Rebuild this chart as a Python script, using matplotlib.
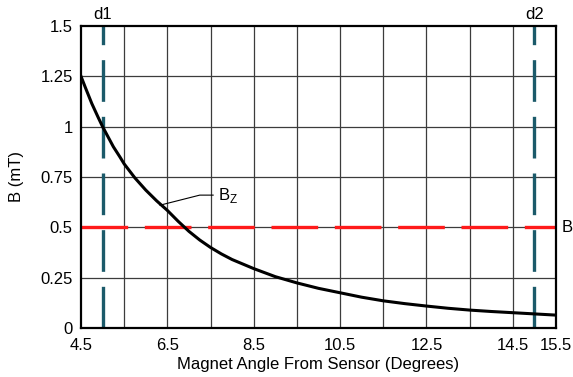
import numpy as np
import matplotlib.pyplot as plt

plt.rcParams['font.family'] = ['Liberation Sans', 'DejaVu Sans']

# curve: B_z vs magnet angle
angle = [4.5, 4.6, 4.75, 4.9, 5.0, 5.15, 5.25, 5.4, 5.5, 5.75, 6.0, 6.25, 6.5,
         6.75, 7.0, 7.25, 7.5, 7.75, 8.0, 8.5, 9.0, 9.5, 10.0, 10.5, 11.0,
         11.5, 12.0, 12.5, 13.0, 13.5, 14.0, 14.5, 15.0, 15.5]
bz = [1.25, 1.195, 1.115, 1.045, 1.0, 0.94, 0.90, 0.85, 0.815, 0.745, 0.685,
      0.632, 0.584, 0.53, 0.48, 0.437, 0.40, 0.368, 0.34, 0.295, 0.255, 0.224,
      0.197, 0.175, 0.153, 0.135, 0.121, 0.109, 0.098, 0.089, 0.082, 0.076,
      0.070, 0.064]

threshold = 0.5
d_positions = [5.0, 15.0]
d_labels = ["d1", "d2"]

x_ticks = [4.5, 6.5, 8.5, 10.5, 12.5, 14.5, 15.5]
x_ticklabels = ["4.5", "6.5", "8.5", "10.5", "12.5", "14.5", "15.5"]
y_ticks = [0, 0.25, 0.5, 0.75, 1.0, 1.25, 1.5]
y_ticklabels = ["0", "0.25", "0.5", "0.75", "1", "1.25", "1.5"]

fig = plt.figure(figsize=(5.73, 3.77), dpi=100)
ax = fig.add_axes([81 / 573, 1 - 328 / 377, 475 / 573, 302 / 377])

ax.set_xlim(4.5, 15.5)
ax.set_ylim(0, 1.5)

# grid
for gx in np.arange(5.5, 15.0, 1.0):
    ax.axvline(gx, color='#3c3c3c', lw=0.9, zorder=1)
for gy in [0.25, 0.5, 0.75, 1.0, 1.25]:
    ax.axhline(gy, color='#3c3c3c', lw=0.9, zorder=1)

# threshold
ax.axhline(threshold, color='#ff1a1a', lw=2.4, dashes=(14, 5), zorder=3)
ax.text(15.62, threshold, "B", fontsize=12, va='center', ha='left', clip_on=False)

# d1 / d2 markers
for xp, lab in zip(d_positions, d_labels):
    ax.axvline(xp, color='#1b5a6a', lw=2.4, dashes=(12.5, 4.5), dash_capstyle='butt', zorder=3)
    ax.text(xp, 1.52, lab, fontsize=12, ha='center', va='bottom', clip_on=False)

ax.plot(angle, bz, color='black', lw=2.2, zorder=4)

# B_z callout
ax.plot([6.33, 7.25, 7.56], [0.61, 0.66, 0.66], color='black', lw=0.8, zorder=4)
ax.text(7.68, 0.66, r"B$_\mathregular{Z}$", fontsize=12, va='center', ha='left')

ax.set_xticks(x_ticks)
ax.set_xticklabels(x_ticklabels)
ax.set_yticks(y_ticks)
ax.set_yticklabels(y_ticklabels)
ax.tick_params(axis='x', length=0, labelsize=12, pad=7)
ax.tick_params(axis='y', length=0, labelsize=12, pad=6)

for s in ax.spines.values():
    s.set_linewidth(1.6)
    s.set_zorder(5)

fig.text(318 / 573, 1 - 365 / 377, "Magnet Angle From Sensor (Degrees)",
         fontsize=12, ha='center', va='center')
fig.text(17 / 573, 1 - 176 / 377, "B (mT)", fontsize=12, ha='center',
         va='center', rotation=90)

fig.savefig("out.png", dpi=100)
